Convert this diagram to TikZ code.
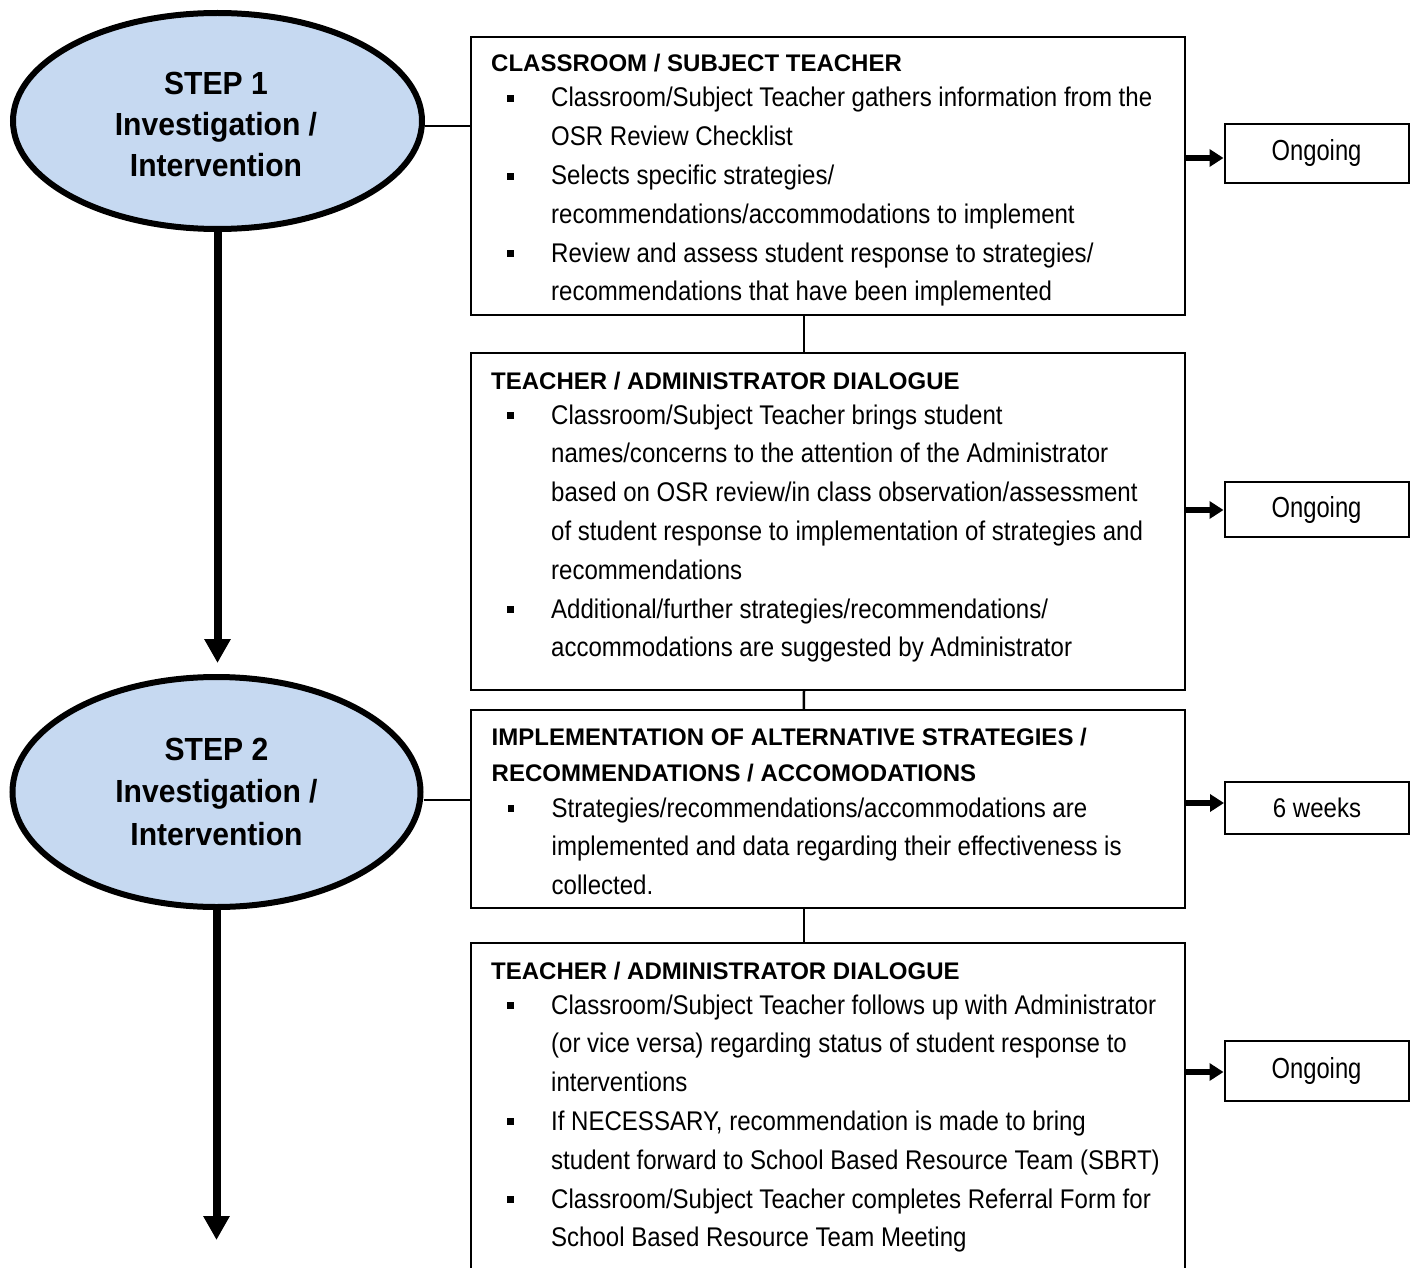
\documentclass[tikz,border=0pt]{standalone}
\usepackage{fontspec}
\setmainfont{Liberation Sans}
\newfontfamily\bodyfont[FakeStretch=0.89]{Liberation Sans}
\newfontfamily\headfont{Liberation Sans}
\newfontfamily\ovalfont[FakeStretch=0.94]{Liberation Sans}
\newfontfamily\timefont[FakeStretch=0.82]{Liberation Sans}
\usetikzlibrary{shapes.geometric,arrows.meta}
\definecolor{ovalblue}{HTML}{C6D9F1}

% box heading, bullet and continuation indent
\newcommand\hd[1]{{\headfont\bfseries\fontsize{24}{38.8}\selectfont #1}}
\newcommand\bul{\makebox[60pt][l]{\hspace*{16pt}\rule[5pt]{6.5pt}{7pt}}}
\newcommand\cont{\hspace*{60pt}}
\newcommand\boxlines[1]{\parbox[t]{680pt}{\setlength\lineskiplimit{-100pt}\raggedright #1}}

\tikzset{
  stepoval/.style={ellipse, draw, line width=6pt, fill=ovalblue, inner sep=0pt},
  ovaltext/.style={inner sep=0pt, anchor=base, font=\ovalfont\bfseries\fontsize{32}{41}\selectfont},
  infobox/.style={draw, line width=2pt, rectangle, inner sep=0pt},
  boxtext/.style={inner sep=0pt, anchor=base west, font=\bodyfont\fontsize{27}{38.8}\selectfont},
  timebox/.style={draw, line width=2pt, minimum width=184pt, inner sep=0pt,
    font=\timefont\fontsize{29}{34}\selectfont},
  link/.style={line width=2.5pt},
  flow/.style={line width=8pt, -{Triangle[width=25pt,length=24pt]}},
  side/.style={line width=5.5pt, -{Triangle[width=17pt,length=14pt]}},
}

\begin{document}
\begin{tikzpicture}[x=1pt, y=-1pt]
\useasboundingbox (0,0) rectangle (1411,1268);
\fill[white] (0,0) rectangle (1411,1268);
\clip (0,0) rectangle (1411,1268);

% step ovals
\node[stepoval, minimum width=409pt, minimum height=216pt] (e1) at (217.5,121) {};
\node[ovaltext] (e1t) at (216,95) {\parbox[t]{300pt}{\centering STEP 1\\Investigation /\\Intervention}};
\node[stepoval, minimum width=408pt, minimum height=230pt] (e2) at (216.5,792) {};
\node[ovaltext, font=\ovalfont\bfseries\fontsize{32}{42.5}\selectfont] (e2t) at (216.5,760)
  {\parbox[t]{300pt}{\centering STEP 2\\Investigation /\\Intervention}};

% description boxes
\node[infobox, minimum width=714pt, minimum height=278pt] (b1) at (828,176) {};
\node[infobox, minimum width=714pt, minimum height=337pt] (b2) at (828,521.5) {};
\node[infobox, minimum width=714.5pt, minimum height=198pt] (b3) at (827.75,809) {};
\node[infobox, minimum width=714.5pt, minimum height=347pt] (b4) at (827.75,1116.5) {};

\node[boxtext] (b1t) at (491,72) {\boxlines{%
\hd{CLASSROOM / SUBJECT TEACHER}\\[-3.8pt]
\bul Classroom/Subject Teacher gathers information from the\\
\cont OSR Review Checklist\\
\bul Selects specific strategies/\\
\cont recommendations/accommodations to implement\\
\bul Review and assess student response to strategies/\\
\cont recommendations that have been implemented}};

\node[boxtext] (b2t) at (491,389) {\boxlines{%
\hd{TEACHER / ADMINISTRATOR DIALOGUE}\\[-3.8pt]
\bul Classroom/Subject Teacher brings student\\
\cont names/concerns to the attention of the Administrator\\
\cont based on OSR review/in class observation/assessment\\
\cont of student response to implementation of strategies and\\
\cont recommendations\\
\bul Additional/further strategies/recommendations/\\
\cont accommodations are suggested by Administrator}};

\node[boxtext] (b3t) at (491.5,745.5) {\boxlines{%
\hd{IMPLEMENTATION OF ALTERNATIVE STRATEGIES /}\\[-2.8pt]
\hd{RECOMMENDATIONS / ACCOMODATIONS}\\[-3.3pt]
\bul Strategies/recommendations/accommodations are\\
\cont implemented and data regarding their effectiveness is\\
\cont collected.}};

\node[boxtext] (b4t) at (491,979) {\boxlines{%
\hd{TEACHER / ADMINISTRATOR DIALOGUE}\\[-3.8pt]
\bul Classroom/Subject Teacher follows up with Administrator\\
\cont (or vice versa) regarding status of student response to\\
\cont interventions\\
\bul If NECESSARY, recommendation is made to bring\\
\cont student forward to School Based Resource Team (SBRT)\\
\bul Classroom/Subject Teacher completes Referral Form for\\
\cont School Based Resource Team Meeting}};

% time frames
\node[timebox, minimum height=59pt] (t1) at (1316.5,153.5) {Ongoing};
\node[timebox, minimum height=55pt] (t2) at (1316.5,509.5) {Ongoing};
\node[timebox, minimum height=52pt, font=\bodyfont\fontsize{27}{32}\selectfont] (t3) at (1317,808) {6 weeks};
\node[timebox, minimum height=60pt] (t4) at (1316.5,1070.5) {Ongoing};

% connectors
\draw[link] ([yshift=-5pt]e1.east) -- ([yshift=-5pt]e1.east -| b1.west);
\draw[link] ([yshift=-8pt]e2.east) -- ([yshift=-8pt]e2.east -| b3.west);
\draw[link] ([xshift=-24pt]b1.south) -- ([xshift=-24pt]b2.north);
\draw[link] ([xshift=-24pt]b2.south) -- ([xshift=-24pt]b3.north);
\draw[link] ([xshift=-24pt]b3.south) -- ([xshift=-24pt]b4.north);

\draw[side] ([yshift=-4.5pt]t1.west -| b1.east) -- ([yshift=-4.5pt]t1.west);
\draw[side] ([yshift=-0.5pt]t2.west -| b2.east) -- ([yshift=-0.5pt]t2.west);
\draw[side] ([yshift=5pt]t3.west -| b3.east) -- ([yshift=5pt]t3.west);
\draw[side] ([yshift=-1.5pt]t4.west -| b4.east) -- ([yshift=-1.5pt]t4.west);

% flow between steps
\coordinate (a1end) at (219,663);
\coordinate (a2end) at (214,1240);
\draw[flow] (e1.south) -- (e1.south |- a1end);
\draw[flow] (e2.south) -- (e2.south |- a2end);
\end{tikzpicture}
\end{document}
